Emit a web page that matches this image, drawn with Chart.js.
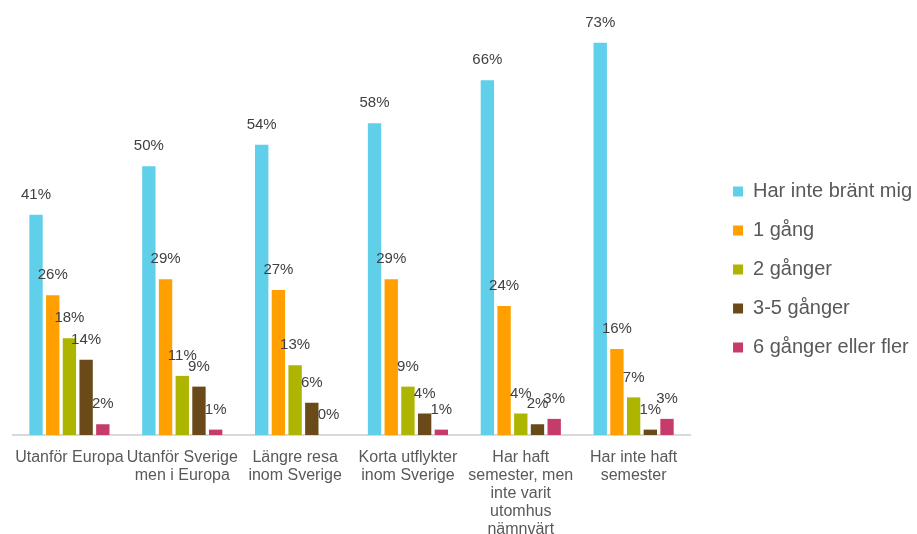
<!DOCTYPE html>
<html lang="sv">
<head>
<meta charset="utf-8">
<title>Solbränna</title>
<script src="https://cdn.jsdelivr.net/npm/chart.js@4.4.1/dist/chart.umd.min.js"></script>
<style>
  html, body { margin: 0; padding: 0; background: #fff; }
  #wrap { width: 917px; height: 534px; }
</style>
</head>
<body>
<div id="wrap"><canvas id="chart" width="917" height="534"></canvas></div>
<script>
"use strict";

const categories = [
  ["Utanför Europa"],
  ["Utanför Sverige", "men i Europa"],
  ["Längre resa", "inom Sverige"],
  ["Korta utflykter", "inom Sverige"],
  ["Har haft", "semester, men", "inte varit", "utomhus", "nämnvärt"],
  ["Har inte haft", "semester"]
];

const seriesNames = ["Har inte bränt mig", "1 gång", "2 gånger", "3-5 gånger", "6 gånger eller fler"];
const seriesColors = ["#5FCFEA", "#FFA000", "#ADB500", "#6B4A1A", "#C53C6B"];

const notBurned = [41, 50, 54, 58, 66, 73];
const once = [26, 29, 27, 29, 24, 16];
const twice = [18, 11, 13, 9, 4, 7];
const threeToFive = [14, 9, 6, 4, 2, 1];
const sixOrMore = [2, 1, 0, 1, 3, 3];

const allSeries = [notBurned, once, twice, threeToFive, sixOrMore];

const fontFamily = "'Liberation Sans', Arial, sans-serif";

// percent labels above each bar
const valueLabels = {
  id: "valueLabels",
  afterDatasetsDraw(chart) {
    const ctx = chart.ctx;
    ctx.save();
    ctx.font = "15px " + fontFamily;
    ctx.fillStyle = "#404040";
    ctx.textAlign = "center";
    ctx.textBaseline = "middle";
    chart.data.datasets.forEach(function (ds, i) {
      const meta = chart.getDatasetMeta(i);
      meta.data.forEach(function (bar, j) {
        ctx.fillText(ds.data[j] + "%", bar.x, bar.y - 20);
      });
    });
    ctx.restore();
  }
};

const datasets = [];
for (let i = 0; i < allSeries.length; i++) {
  datasets.push({
    label: seriesNames[i],
    data: allSeries[i],
    backgroundColor: seriesColors[i],
    borderWidth: 0,
    barPercentage: 0.8,
    categoryPercentage: 0.74
  });
}

const config = {
  type: "bar",
  data: { labels: categories, datasets: datasets },
  options: {
    responsive: false,
    animation: false,
    layout: { padding: { left: 13, top: 5, right: -5, bottom: 0 } },
    plugins: {
      tooltip: { enabled: false },
      legend: {
        position: "right",
        labels: {
          boxWidth: 10,
          boxHeight: 10,
          padding: 19,
          color: "#595959",
          font: { family: fontFamily, size: 20 }
        }
      }
    },
    scales: {
      x: {
        grid: { display: false, drawTicks: false },
        border: { color: "#D9D9D9", width: 2 },
        ticks: {
          color: "#595959",
          padding: 14,
          maxRotation: 0,
          autoSkip: false,
          font: { family: fontFamily, size: 16, lineHeight: "18px" }
        },
        // the five-line label may run to the bottom edge
        afterFit(scale) {
          scale.height = 99;
        }
      },
      // hidden value axis, kept on the right as a spacer before the legend
      y: {
        position: "right",
        min: 0,
        max: 80,
        grid: { display: false, drawTicks: false },
        border: { display: false },
        ticks: { display: false },
        afterFit(scale) {
          scale.width = 24;
        }
      }
    }
  },
  plugins: [valueLabels]
};

const myChart = new Chart(document.getElementById("chart"), config);
</script>
</body>
</html>
